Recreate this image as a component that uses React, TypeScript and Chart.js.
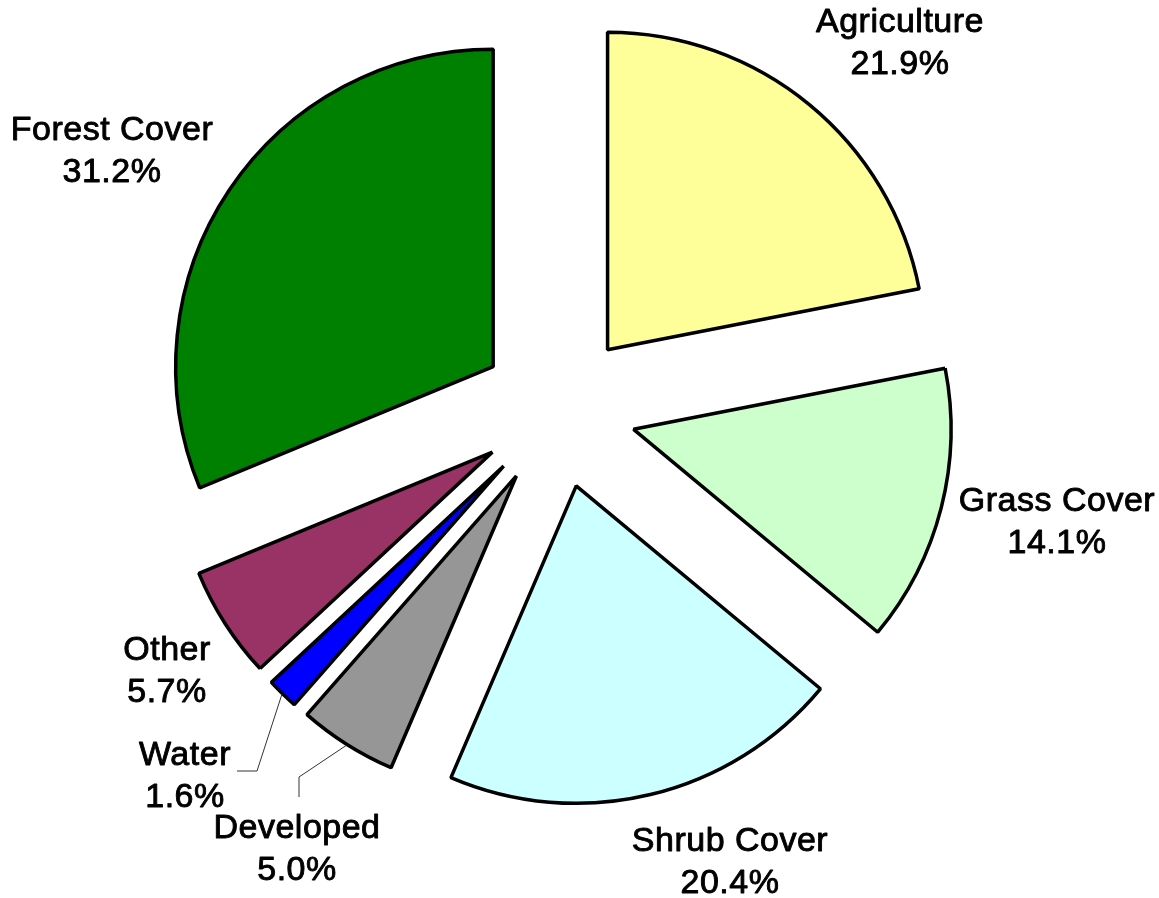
import React, { useEffect, useRef } from "react";
import { Chart, registerables } from "chart.js";

Chart.register(...registerables);

// ---- data ----
const CATEGORIES = ["Agriculture", "Grass Cover", "Shrub Cover", "Developed", "Water", "Other", "Forest Cover"];
const SHARES = [21.9, 14.1, 20.4, 5.0, 1.6, 5.7, 31.2];

// ---- styles / layout (kept apart from data) ----
const COLORS = ["#FFFF99", "#CCFFCC", "#CCFFFF", "#969696", "#0000FF", "#993366", "#008000"];
const WIDTH = 1159;
const HEIGHT = 898;
const RADIUS = 317.5;
const EXPLODE = 78;
const FONT = '34px "Liberation Sans", Arial, sans-serif';
const LINE_GAP = 42;
// label block centres relative to the pie centre
const LABEL_OFFSETS: [number, number][] = [
  [342, -369],
  [499, 109.5],
  [172, 450],
  [-261, 436.5],
  [-373, 363.5],
  [-391, 258.5],
  [-446, -261.5],
];
// leader lines (elbow, end) relative to label centre, null = no leader
const LEADERS: ([number, number][] | null)[] = [
  null,
  null,
  null,
  [[2, -69.5], [2, -49.5]],
  [[72, -2.5], [52, -2.5]],
  null,
  null,
];

const explodePlugin = {
  id: "explode",
  afterDatasetUpdate(chart: any, args: any) {
    const meta = args.meta;
    meta.data.forEach((el: any) => {
      const mid = (el.startAngle + el.endAngle) / 2;
      el.x += Math.cos(mid) * EXPLODE;
      el.y += Math.sin(mid) * EXPLODE;
    });
  },
};

const labelPlugin = {
  id: "sliceLabels",
  afterDraw(chart: any) {
    const ctx = chart.ctx;
    const area = chart.chartArea;
    const cx = (area.left + area.right) / 2;
    const cy = (area.top + area.bottom) / 2;
    const meta = chart.getDatasetMeta(0);
    ctx.save();
    ctx.font = FONT;
    (ctx as any).letterSpacing = "0.5px";
    ctx.fillStyle = "#000";
    ctx.strokeStyle = "#000";
    ctx.textAlign = "center";
    ctx.textBaseline = "alphabetic";
    ctx.lineJoin = "round";
    CATEGORIES.forEach((name, i) => {
      const [dx, dy] = LABEL_OFFSETS[i];
      const lx = cx + dx;
      const ly = cy + dy;
      const lines = [name, SHARES[i].toFixed(1) + "%"];
      lines.forEach((t, k) => {
        const y = ly - 9 + k * LINE_GAP;
        ctx.lineWidth = 0.9;
        ctx.fillText(t, lx, y);
        ctx.strokeText(t, lx, y);
      });
      const leader = LEADERS[i];
      if (leader) {
        const el = meta.data[i];
        const mid = (el.startAngle + el.endAngle) / 2;
        const sx = el.x + Math.cos(mid) * (el.outerRadius + 1);
        const sy = el.y + Math.sin(mid) * (el.outerRadius + 1);
        ctx.beginPath();
        ctx.lineWidth = 1;
        ctx.strokeStyle = "#333";
        ctx.moveTo(sx, sy);
        leader.forEach(([ox, oy]) => ctx.lineTo(lx + ox, ly + oy));
        ctx.stroke();
        ctx.strokeStyle = "#000";
      }
    });
    ctx.restore();
  },
};

export default function App() {
  const canvasRef = useRef<HTMLCanvasElement | null>(null);

  useEffect(() => {
    const canvas = canvasRef.current;
    if (!canvas) return;
    const chart = new Chart(canvas, {
      type: "pie",
      data: {
        labels: CATEGORIES,
        datasets: [
          {
            data: SHARES,
            backgroundColor: COLORS,
            borderColor: "#000000",
            borderWidth: 3.5,
            borderJoinStyle: "bevel",
          } as any,
        ],
      },
      options: {
        responsive: false,
        animation: false,
        radius: RADIUS,
        rotation: 0,
        layout: { padding: { left: 0, top: 0, right: 43, bottom: 78 } },
        plugins: {
          legend: { display: false },
          tooltip: { enabled: false },
          title: { display: false },
        },
      } as any,
      plugins: [explodePlugin, labelPlugin],
    });
    return () => chart.destroy();
  }, []);

  return (
    <div style={{ position: "fixed", left: 0, top: 0, width: WIDTH, height: HEIGHT, background: "#fff" }}>
      <canvas ref={canvasRef} width={WIDTH} height={HEIGHT} style={{ display: "block" }} />
    </div>
  );
}
